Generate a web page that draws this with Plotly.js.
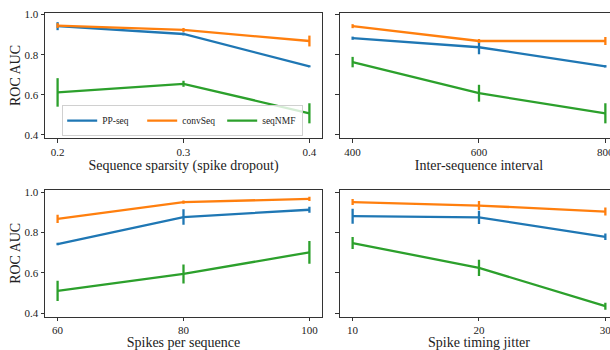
<!DOCTYPE html>
<html>
<head>
<meta charset="utf-8">
<script src="https://cdn.plot.ly/plotly-3.0.1.min.js"></script>
<style>
html, body { margin:0; padding:0; overflow:hidden; background:#fff; }
#chart { width:625px; height:350px; }
</style>
</head>
<body>
<div id="chart"></div>
<script>
// ---- data ----
const seriesNames = ["PP-seq", "convSeq", "seqNMF"];
const seriesColors = ["#1f77b4", "#ff7f0e", "#2ca02c"];

const sparsity = [0.2, 0.3, 0.4];
const sparsityPP = [0.942, 0.903, 0.742];
const sparsityPPErr = [0.02, 0.007, 0.005];
const sparsityConv = [0.945, 0.923, 0.868];
const sparsityConvErr = [0.012, 0.01, 0.027];
const sparsityNMF = [0.612, 0.655, 0.508];
const sparsityNMFErr = [0.071, 0.015, 0.05];

const interval = [400, 600, 800];
const intervalPP = [0.882, 0.837, 0.742];
const intervalPPErr = [0.008, 0.035, 0.006];
const intervalConv = [0.942, 0.868, 0.868];
const intervalConvErr = [0.01, 0.01, 0.02];
const intervalNMF = [0.763, 0.608, 0.508];
const intervalNMFErr = [0.026, 0.042, 0.05];

const spikes = [60, 80, 100];
const spikesPP = [0.743, 0.877, 0.913];
const spikesPPErr = [0.006, 0.038, 0.015];
const spikesConv = [0.868, 0.951, 0.967];
const spikesConvErr = [0.02, 0.008, 0.01];
const spikesNMF = [0.511, 0.595, 0.702];
const spikesNMFErr = [0.05, 0.047, 0.056];

const jitter = [10, 20, 30];
const jitterPP = [0.881, 0.875, 0.779];
const jitterPPErr = [0.037, 0.033, 0.016];
const jitterConv = [0.951, 0.934, 0.904];
const jitterConvErr = [0.015, 0.022, 0.02];
const jitterNMF = [0.748, 0.625, 0.435];
const jitterNMFErr = [0.03, 0.04, 0.017];

const xTitles = ["Sequence sparsity (spike dropout)", "Inter-sequence interval", "Spikes per sequence", "Spike timing jitter"];
const yTitle = "ROC AUC";
const sparsityTickText = ["0.2", "0.3", "0.4"];
const yTickVals = [0.4, 0.6, 0.8, 1.0];
const yTickText = ["0.4", "0.6", "0.8", "1.0"];

// ---- build ----
const panels = [
  {x: sparsity, ys: [sparsityPP, sparsityConv, sparsityNMF], es: [sparsityPPErr, sparsityConvErr, sparsityNMFErr], xa: "x", ya: "y"},
  {x: interval, ys: [intervalPP, intervalConv, intervalNMF], es: [intervalPPErr, intervalConvErr, intervalNMFErr], xa: "x2", ya: "y2"},
  {x: spikes, ys: [spikesPP, spikesConv, spikesNMF], es: [spikesPPErr, spikesConvErr, spikesNMFErr], xa: "x3", ya: "y3"},
  {x: jitter, ys: [jitterPP, jitterConv, jitterNMF], es: [jitterPPErr, jitterConvErr, jitterNMFErr], xa: "x4", ya: "y4"}
];

const traces = [];
panels.forEach((p, pi) => {
  p.ys.forEach((ys, si) => {
    traces.push({
      type: "scatter", mode: "lines",
      x: p.x, y: ys,
      name: seriesNames[si],
      showlegend: pi === 0,
      legendgroup: seriesNames[si],
      xaxis: p.xa, yaxis: p.ya,
      line: {color: seriesColors[si], width: 2.3},
      error_y: {type: "data", array: p.es[si], visible: true, width: 0, thickness: 2.3, color: seriesColors[si]}
    });
  });
});

const fontFam = "Liberation Serif, DejaVu Serif, serif";
const baseAxis = {
  showline: true, linecolor: "#333", linewidth: 1, mirror: true,
  ticks: "outside", ticklen: 3.5, tickwidth: 1, tickcolor: "#333",
  showgrid: false, zeroline: false,
  tickfont: {family: fontFam, size: 11, color: "#222"}
};
function xAxis(domain, range, vals, text, title, anchor) {
  return Object.assign({}, baseAxis, {
    domain: domain, range: range, anchor: anchor,
    tickmode: "array", tickvals: vals, ticktext: text,
    title: {text: title, font: {family: fontFam, size: 14, color: "#222"}, standoff: 3}
  });
}
function yAxis(domain, range, labels, anchor, withTitle) {
  return Object.assign({}, baseAxis, {
    domain: domain, range: range, anchor: anchor,
    tickmode: "array", tickvals: yTickVals, ticktext: yTickText,
    showticklabels: labels,
    title: withTitle ? {text: yTitle, font: {family: fontFam, size: 14, color: "#222"}, standoff: 0} : {text: ""}
  });
}

const dxL = [0, 0.4834], dxR = [0.5148, 1];
const dyT = [0.5888, 1], dyB = [0.001, 0.4178];
const rT = [0.385, 1.0075], rB = [0.383, 1.011];

const layout = {
  width: 625, height: 350,
  margin: {l: 45, r: 7, t: 13, b: 33},
  paper_bgcolor: "#fff", plot_bgcolor: "#fff",
  font: {family: fontFam, color: "#222"},
  showlegend: true,
  legend: {
    orientation: "h", x: 0.03, y: 0.595, xanchor: "left", yanchor: "bottom",
    bordercolor: "#d0d0d0", borderwidth: 1, bgcolor: "rgba(255,255,255,0.8)",
    font: {family: fontFam, size: 9.5, color: "#222"},
    entrywidth: 35, entrywidthmode: "pixels",
    tracegroupgap: 0, itemwidth: 30
  },
  xaxis: xAxis(dxL, [0.19, 0.41], sparsity, sparsityTickText, xTitles[0], "y"),
  yaxis: yAxis(dyT, rT, true, "x", true),
  xaxis2: xAxis(dxR, [380, 820], interval, interval.map(String), xTitles[1], "y2"),
  yaxis2: yAxis(dyT, rT, false, "x2", false),
  xaxis3: xAxis(dxL, [58, 102], spikes, spikes.map(String), xTitles[2], "y3"),
  yaxis3: yAxis(dyB, rB, true, "x3", true),
  xaxis4: xAxis(dxR, [9, 31], jitter, jitter.map(String), xTitles[3], "y4"),
  yaxis4: yAxis(dyB, rB, false, "x4", false)
};

Plotly.newPlot("chart", traces, layout, {displayModeBar: false, staticPlot: true});
</script>
</body>
</html>
